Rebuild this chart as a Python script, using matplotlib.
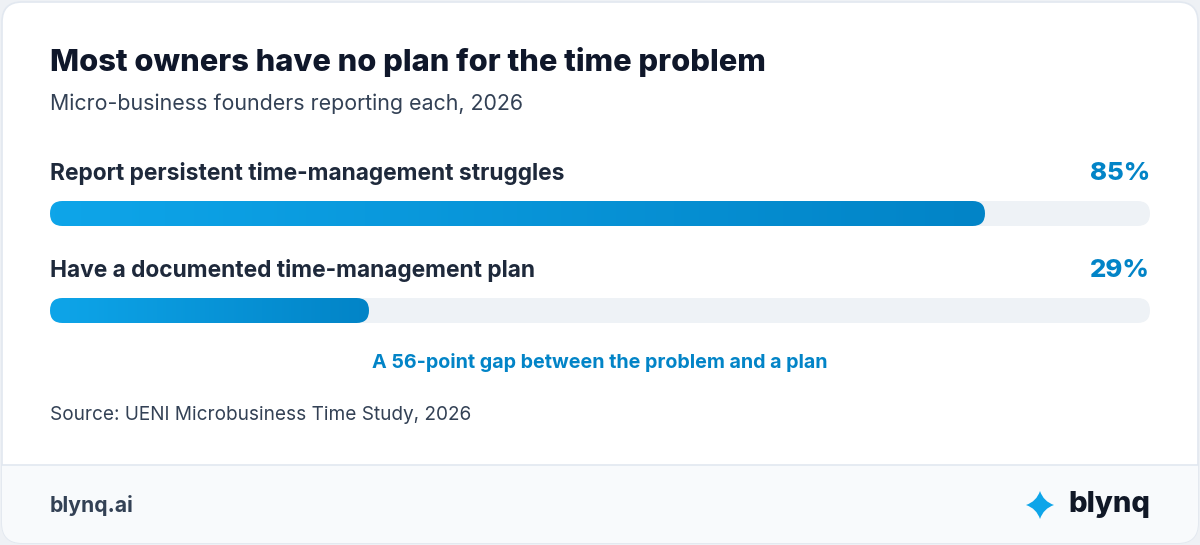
import matplotlib
matplotlib.use("Agg")
import matplotlib.pyplot as plt
import numpy as np
from matplotlib.colors import LinearSegmentedColormap
from matplotlib.patches import FancyBboxPatch, PathPatch, Rectangle
from matplotlib.path import Path

plt.rcParams["font.family"] = ["Inter", "DejaVu Sans"]

title = "Most owners have no plan for the time problem"
subtitle = "Micro-business founders reporting each, 2026"
labels = ["Report persistent time-management struggles", "Have a documented time-management plan"]
values = [85, 29]
note = "A 56-point gap between the problem and a plan"
source = "Source: UENI Microbusiness Time Study, 2026"
footer_left = "blynq.ai"
brand = "blynq"

W, H = 1200, 545
fig = plt.figure(figsize=(W / 100, H / 100), dpi=100)
fig.patch.set_facecolor("#eef1f5")

# full-figure axes in pixel units for the card and text
ax = fig.add_axes([0, 0, 1, 1])
ax.set_xlim(0, W)
ax.set_ylim(H, 0)
ax.axis("off")

card = FancyBboxPatch((2, 2), W - 4, H - 4, boxstyle="round,pad=0,rounding_size=20",
                      facecolor="white", edgecolor="#e2e8f0", linewidth=1.2, zorder=1)
ax.add_patch(card)
footer = Rectangle((0, 465), W, H - 465, facecolor="#f8fafc", edgecolor="none", zorder=2)
footer.set_clip_path(card)
ax.add_patch(footer)
ax.plot([2, W - 2], [465, 465], color="#e2e8f0", lw=1.2, zorder=3)

ax.text(50, 62, title, fontsize=22.2, fontweight="heavy", color="#0f172a", va="center", zorder=5)
ax.text(50, 104, subtitle, fontsize=15.4, color="#334155", va="center", zorder=5)
ax.text(600, 363, note, fontsize=14.2, fontweight="bold", color="#0284c7", va="center", ha="center", zorder=5)
ax.text(50, 415, source, fontsize=13.7, color="#334155", va="center", zorder=5)
ax.text(50, 505, footer_left, fontsize=15.2, fontweight="bold", color="#334155", va="center", zorder=5)
ax.text(1150, 505, brand, fontsize=21, fontweight="heavy", color="#111827", va="center", ha="right", zorder=5)

# four-point star logo
cx, cy, r, k = 1040, 505, 14, 3.5
verts = [(cx, cy - r), (cx + k, cy - k), (cx + r, cy), (cx + k, cy + k),
         (cx, cy + r), (cx - k, cy + k), (cx - r, cy), (cx - k, cy - k), (cx, cy - r)]
codes = [Path.MOVETO] + [Path.CURVE3] * 8
star = PathPatch(Path(verts, codes), facecolor="#0ea5e9", edgecolor="none", zorder=5)
ax.add_patch(star)

# bar axes: x in percent, y in pixels
bx = fig.add_axes([50 / W, 0, 1100 / W, 1])
bx.set_xlim(0, 100)
bx.set_ylim(H, 0)
bx.axis("off")
bx.patch.set_alpha(0)

px_per_x = 1100 / 100
bar_h = 25
rad = bar_h / 2
cmap = LinearSegmentedColormap.from_list("blue", ["#0ea5e9", "#0284c7"])
grad = np.linspace(0, 1, 256).reshape(1, -1)

for i, (lab, v) in enumerate(zip(labels, values)):
    yc = 213.5 + i * 97
    bx.text(0, yc - 40, lab, fontsize=16.4, fontweight="bold", color="#1e293b", va="center", zorder=5)
    bx.text(100, yc - 40, f"{v}%", fontsize=18.5, fontweight="heavy", color="#0284c7", va="center",
            ha="right", zorder=5)
    track = FancyBboxPatch((0, yc - bar_h / 2), 100, bar_h,
                           boxstyle=f"round,pad=0,rounding_size={rad / px_per_x}",
                           mutation_aspect=px_per_x, facecolor="#eef2f6", edgecolor="none", zorder=3)
    bx.add_patch(track)
    fill = FancyBboxPatch((0, yc - bar_h / 2), v, bar_h,
                          boxstyle=f"round,pad=0,rounding_size={rad / px_per_x}",
                          mutation_aspect=px_per_x, facecolor="none", edgecolor="none", zorder=4)
    bx.add_patch(fill)
    im = bx.imshow(grad, cmap=cmap, aspect="auto", extent=(0, v, yc + bar_h / 2, yc - bar_h / 2),
                   zorder=4, interpolation="bilinear")
    im.set_clip_path(fill)

bx.set_xlim(0, 100)
bx.set_ylim(H, 0)

fig.savefig("out.png", dpi=100, facecolor=fig.get_facecolor())
